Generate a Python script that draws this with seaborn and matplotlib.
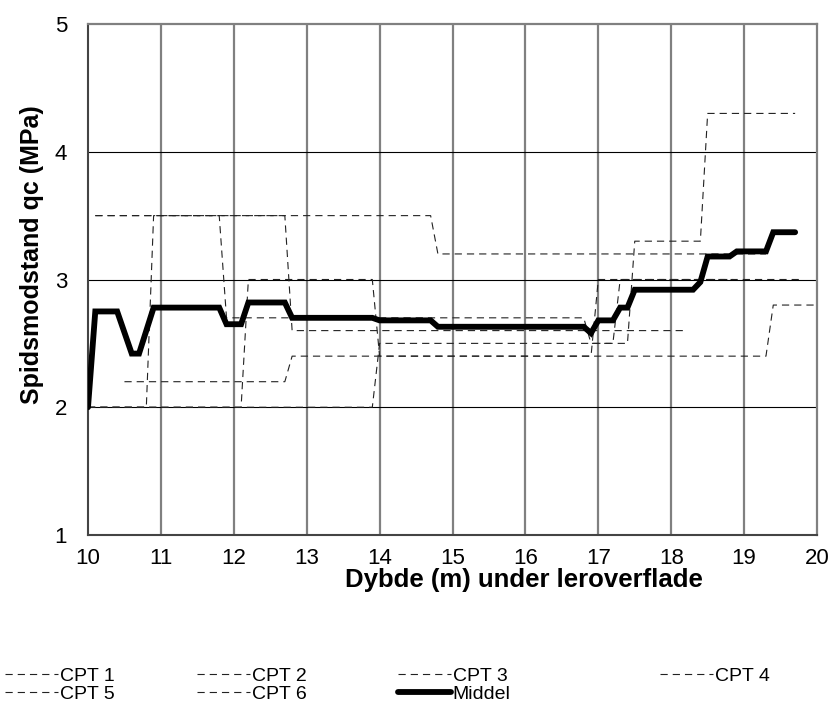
import numpy as np
import pandas as pd
import seaborn as sns
import matplotlib.pyplot as plt

# === Data: depth (m) and cone resistance qc (MPa) ===
cpt1_x = [10.1, 14.7, 14.8, 19.3]
cpt1_y = [3.5, 3.5, 3.2, 3.2]

cpt2_x = [10.0, 10.8, 10.9, 12.7, 12.8, 18.2]
cpt2_y = [2.0, 2.0, 3.5, 3.5, 2.6, 2.6]

cpt3_x = [10.1, 11.8, 11.9, 16.8, 16.9, 17.2, 17.3, 19.8]
cpt3_y = [3.5, 3.5, 2.7, 2.7, 2.5, 2.5, 3.0, 3.0]

cpt4_x = [10.0, 12.1, 12.2, 13.9, 14.0, 16.9, 17.0, 18.85]
cpt4_y = [2.0, 2.0, 3.0, 3.0, 2.4, 2.4, 3.0, 3.0]

cpt5_x = [10.5, 12.7, 12.8, 19.3, 19.4, 20.0]
cpt5_y = [2.2, 2.2, 2.4, 2.4, 2.8, 2.8]

cpt6_x = [10.0, 13.9, 14.0, 17.4, 17.5, 18.4, 18.5, 19.7]
cpt6_y = [2.0, 2.0, 2.5, 2.5, 3.3, 3.3, 4.3, 4.3]

middel_x = [10.0, 10.1, 10.4, 10.6, 10.7, 10.9, 11.8, 11.9, 12.1, 12.2, 12.7,
            12.8, 13.9, 14.0, 14.7, 14.8, 16.8, 16.9, 17.0, 17.2, 17.3, 17.4,
            17.5, 18.3, 18.4, 18.5, 18.8, 18.9, 19.3, 19.4, 19.7]
middel_y = [2.0, 2.75, 2.75, 2.42, 2.42, 2.78, 2.78, 2.65, 2.65, 2.82, 2.82,
            2.70, 2.70, 2.68, 2.68, 2.63, 2.63, 2.58, 2.68, 2.68, 2.78, 2.78,
            2.92, 2.92, 2.98, 3.18, 3.18, 3.22, 3.22, 3.37, 3.37]

cpt_names = ["CPT 1", "CPT 2", "CPT 3", "CPT 4", "CPT 5", "CPT 6"]
cpt_x = [cpt1_x, cpt2_x, cpt3_x, cpt4_x, cpt5_x, cpt6_x]
cpt_y = [cpt1_y, cpt2_y, cpt3_y, cpt4_y, cpt5_y, cpt6_y]

x_ticks = list(range(10, 21))
y_ticks = [1, 2, 3, 4, 5]

# === Plot ===
sns.set_style("white")
plt.rcParams['font.family'] = ['Liberation Sans', 'DejaVu Sans']
plt.rcParams['text.color'] = 'black'
plt.rcParams['axes.labelcolor'] = 'black'
plt.rcParams['xtick.color'] = 'black'
plt.rcParams['ytick.color'] = 'black'

W, H = 835, 711
fig = plt.figure(figsize=(W / 100, H / 100), dpi=100)
ax = fig.add_axes([88 / W, 1 - 535 / H, 729 / W, 511 / H])

# grid: vertical grey, horizontal black
for xv in x_ticks[1:-1]:
    ax.axvline(xv, color="#808080", lw=1.6, zorder=1)
for yv in y_ticks[1:-1]:
    ax.axhline(yv, color="black", lw=0.8, zorder=1)

handles = {}
for name, xs, ys in zip(cpt_names, cpt_x, cpt_y):
    df = pd.DataFrame({"x": xs, "y": ys})
    sns.lineplot(data=df, x="x", y="y", ax=ax, sort=False, estimator=None,
                 color="#222222", lw=0.8, linestyle=(0, (6.5, 4.5)), zorder=3)
    handles[name] = ax.lines[-1]

df_m = pd.DataFrame({"x": middel_x, "y": middel_y})
sns.lineplot(data=df_m, x="x", y="y", ax=ax, sort=False, estimator=None,
             color="black", lw=4.2, zorder=4, solid_joinstyle="miter")
handles["Middel"] = ax.lines[-1]

ax.set_xlim(10, 20)
ax.set_ylim(1, 5)
ax.set_xticks(x_ticks)
ax.set_yticks(y_ticks)
ax.tick_params(axis="both", direction="out", length=5, width=1,
               color="#555555", labelsize=16)
ax.tick_params(axis="x", pad=4)
ax.tick_params(axis="y", pad=10)

for side in ["left", "bottom"]:
    ax.spines[side].set_color("#444444")
    ax.spines[side].set_linewidth(1.5)
for side in ["top", "right"]:
    ax.spines[side].set_color("#808080")
    ax.spines[side].set_linewidth(1.6)

ax.set_xlabel("Dybde (m) under leroverflade", fontsize=18.5, fontweight="bold")
ax.xaxis.set_label_coords((524 - 88) / 729, (535 - 568) / 511)
ax.xaxis.label.set_va("top")
ax.set_ylabel("Spidsmodstand qc (MPa)", fontsize=18, fontweight="bold")
ax.yaxis.set_label_coords((32 - 88) / 729, (535 - 255) / 511)
ax.yaxis.label.set_va("center")

# legend: four columns placed like the original
columns = [["CPT 1", "CPT 5"], ["CPT 2", "CPT 6"], ["CPT 3", "Middel"], ["CPT 4"]]
col_x = [5, 197, 398, 660]
for names, cx in zip(columns, col_x):
    leg = fig.legend([handles[k] for k in names], names, loc="upper left",
                     bbox_to_anchor=(cx / W, 1 - 667 / H), frameon=False,
                     fontsize=14, handlelength=2.7, handletextpad=0.12,
                     labelspacing=0.02, borderpad=0, borderaxespad=0)

fig.savefig("out.png", dpi=100)
